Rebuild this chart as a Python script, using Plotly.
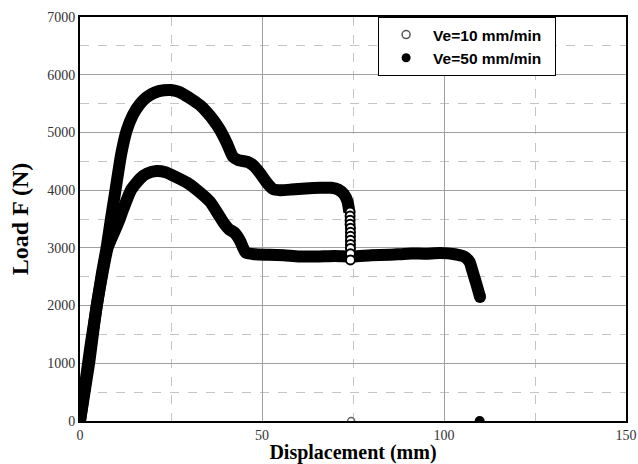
import plotly.graph_objects as go

# Ve = 10 mm/min (upper curve)
disp_10 = [0, 1, 2, 3, 4, 5, 6, 7.3, 8.5, 9.75, 11.3, 12.8, 14.5, 16.3, 18.3, 20.5, 23, 25, 27, 29, 31,
           33, 35, 36.8, 38.5, 40.3, 42, 43.5, 46, 47.8, 49.5, 51.3, 53, 55, 58, 62, 66, 69, 71, 72.5,
           73.5, 74]
load_10 = [0, 450, 900, 1350, 1750, 2150, 2550, 3000, 3500, 4000, 4620, 5030, 5300, 5480, 5610, 5690,
           5730, 5735, 5705, 5640, 5560, 5470, 5340, 5200, 5040, 4820, 4580, 4520, 4490, 4420, 4290,
           4130, 4020, 4000, 4010, 4030, 4040, 4040, 4010, 3930, 3800, 3620]
# open-circle markers of the final drop
drop_10_x = [74.2, 74.2, 74.2, 74.2, 74.3, 74.3, 74.3, 74.3, 74.3, 74.3, 74.3, 74.3]
drop_10_y = [3620, 3550, 3480, 3410, 3340, 3270, 3200, 3130, 3060, 2990, 2900, 2790]
end_10_x = [74.5]
end_10_y = [0]

# Ve = 50 mm/min (lower curve)
disp_50 = [0, 2.5, 4.6, 7.6, 9.6, 10.9, 11.8, 14, 16.5, 18.5, 21, 23.5, 26, 29.4, 32, 35.7, 38, 39.3,
           41, 42.5, 44, 45.5, 48, 52, 56, 60, 65, 70, 75, 80, 85, 90, 95, 99, 103, 105.5, 107, 108,
           109, 109.9]
load_50 = [0, 1000, 2000, 3000, 3300, 3500, 3660, 4000, 4200, 4290, 4330, 4310, 4240, 4130, 4010, 3800,
           3580, 3450, 3320, 3260, 3120, 2920, 2890, 2880, 2870, 2850, 2850, 2860, 2850, 2870, 2880,
           2900, 2900, 2910, 2890, 2850, 2760, 2560, 2350, 2150]
end_50_x = [109.8]
end_50_y = [0]

x_ticks = [0, 50, 100, 150]
y_ticks = [0, 1000, 2000, 3000, 4000, 5000, 6000, 7000]

fig = go.Figure()

fig.add_trace(go.Scatter(x=disp_50, y=load_50, mode="lines",
                         line=dict(color="black", width=12, shape="spline", smoothing=0.5),
                         showlegend=False))
fig.add_trace(go.Scatter(x=[disp_50[-1]], y=[load_50[-1]], mode="markers",
                         marker=dict(symbol="circle", size=12, color="black"), showlegend=False))
fig.add_trace(go.Scatter(x=disp_10, y=load_10, mode="lines",
                         line=dict(color="black", width=12, shape="spline", smoothing=0.5),
                         showlegend=False))
fig.add_trace(go.Scatter(x=drop_10_x, y=drop_10_y, mode="markers",
                         marker=dict(symbol="circle", size=9, color="white",
                                     line=dict(width=2, color="black")),
                         showlegend=False))
fig.add_trace(go.Scatter(x=end_10_x, y=end_10_y, mode="markers",
                         marker=dict(symbol="circle-open", size=7, color="#666", line=dict(width=1.5)),
                         showlegend=False, cliponaxis=True))
fig.add_trace(go.Scatter(x=end_50_x, y=end_50_y, mode="markers",
                         marker=dict(symbol="circle", size=10, color="black"),
                         showlegend=False, cliponaxis=True))

# legend entries
fig.add_trace(go.Scatter(x=[None], y=[None], mode="markers", name="<b>Ve=10 mm/min</b>\u00a0\u00a0",
                         marker=dict(symbol="circle-open", size=8, color="#555", line=dict(width=1.5))))
fig.add_trace(go.Scatter(x=[None], y=[None], mode="markers", name="<b>Ve=50 mm/min</b>\u00a0\u00a0",
                         marker=dict(symbol="circle", size=9, color="black")))

fig.update_layout(
    width=638, height=464,
    margin=dict(l=80, r=12, t=17, b=43),
    paper_bgcolor="white", plot_bgcolor="white",
    font=dict(family="Liberation Serif", size=14, color="#222"),
    legend=dict(x=0.546, y=1.0, xanchor="left", yanchor="top",
                bordercolor="black", borderwidth=1, bgcolor="white",
                font=dict(family="Liberation Sans", size=15.5, color="black"),
                itemwidth=44, tracegroupgap=0),
    xaxis=dict(range=[0, 150], tickvals=x_ticks, ticks="", showline=True, linecolor="black",
               linewidth=2, mirror=True, showgrid=True, gridcolor="#a0a0a0", gridwidth=1,
               zeroline=False, automargin=False,
               minor=dict(dtick=25, showgrid=True, gridcolor="#c4c4c4", griddash="dash", gridwidth=1),
               title=dict(text="<b>Displacement (mm)</b>", standoff=8,
                          font=dict(family="Liberation Serif", size=20, color="black")),
               tickfont=dict(family="Liberation Serif", size=14, color="#333")),
    yaxis=dict(range=[0, 7000], tickvals=y_ticks, ticks="", showline=True, linecolor="black",
               linewidth=2, mirror=True, showgrid=True, gridcolor="#a0a0a0", gridwidth=1,
               zeroline=False, automargin=False,
               minor=dict(dtick=500, showgrid=True, gridcolor="#c4c4c4", griddash="dash", gridwidth=1),
               title=dict(text="<b>Load F (N)</b>", standoff=12,
                          font=dict(family="Liberation Serif", size=24, color="black")),
               tickfont=dict(family="Liberation Serif", size=14, color="#333")),
)

fig.write_html("out.html")
